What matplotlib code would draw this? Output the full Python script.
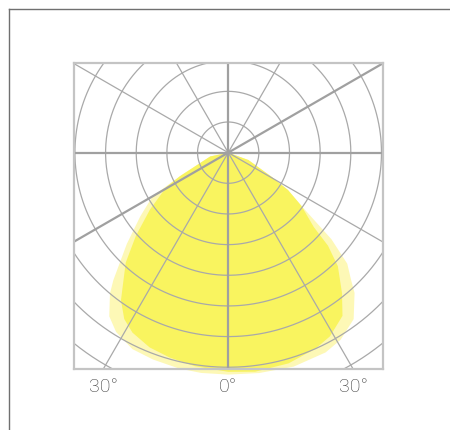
import numpy as np
import matplotlib

matplotlib.use("Agg")
import matplotlib.pyplot as plt
from matplotlib.lines import Line2D

# luminous intensity distribution, angle from nadir (deg, + to the right)
outer_angles = [-90, -78, -64, -60, -54, -48, -42, -40, -36, -32, -26, -20, -13, -7, 0,
                8, 17, 26, 31, 37, 42, 44, 47, 50, 54, 58, 61, 70, 90]
outer_values = [0, 60, 175, 285, 355, 445, 560, 600, 660, 690, 713, 718, 722, 724, 724,
                726, 730, 725, 712, 680, 616, 577, 531, 440, 295, 230, 160, 70, 0]

inner_angles = [-90, -78, -64, -61, -54, -48, -43, -38, -36, -32, -28, -22, -16, -9, 0,
                7, 16, 24, 29, 35, 39, 44, 47, 49, 54, 58, 61, 70, 90]
inner_values = [0, 60, 175, 230, 315, 405, 490, 560, 595, 640, 665, 685, 695, 705, 715,
                720, 715, 700, 685, 650, 590, 515, 445, 370, 295, 230, 160, 70, 0]

rings = [100, 200, 300, 400, 500, 600, 700, 800]
spoke_angles = [0, 30, 60, 90, 120, 150]
bold_angles = [0, 30, 90]
tick_angles = [-30, 0, 30]
tick_labels = ["30°", "0°", "30°"]

x_range = (-504, 504)
y_range = (-706, 294)

GRID = "#a9a9a9"
BOLD = "#a0a0a0"


def to_xy(angles, values):
    a = np.radians(angles)
    v = np.asarray(values, dtype=float)
    return v * np.sin(a), -v * np.cos(a)


fig = plt.figure(figsize=(4.5, 4.3), dpi=100)
ax = fig.add_axes([73.7 / 450, 1 - 369.3 / 430, 309 / 450, 307 / 430])
ax.set_xlim(*x_range)
ax.set_ylim(*y_range)
ax.set_aspect("equal", adjustable="box")
ax.set_xticks([])
ax.set_yticks([])
for s in ax.spines.values():
    s.set_color("#c4c4c4")
    s.set_linewidth(1.6)
    s.set_zorder(6)

# light distribution (not clipped, spills under the bottom edge)
ox, oy = to_xy(outer_angles, outer_values)
ax.fill(ox, oy, color="#fdf8b6", lw=0, zorder=1, clip_on=False)
ix, iy = to_xy(inner_angles, inner_values)
ax.fill(ix, iy, color="#f9f45f", lw=0, zorder=2, clip_on=False)

t = np.linspace(0, 2 * np.pi, 400)
for r in rings:
    ax.plot(r * np.cos(t), r * np.sin(t), color=GRID, lw=0.9, zorder=3)

L = 2000
for a in spoke_angles:
    rad = np.radians(a)
    bold = a in bold_angles
    ax.plot([-L * np.cos(rad), L * np.cos(rad)], [-L * np.sin(rad), L * np.sin(rad)],
            color=BOLD if bold else GRID, lw=1.6 if bold else 0.9, zorder=4 if bold else 3)

for a, lab in zip(tick_angles, tick_labels):
    x = -y_range[0] * np.tan(np.radians(a))
    ax.annotate(lab, xy=(x, 0), xycoords=("data", "axes fraction"),
                xytext=(0, -13), textcoords="offset points", ha="center", va="center",
                fontsize=14, color="#3a3a3a", family=["Roboto", "DejaVu Sans"],
                fontweight="light", annotation_clip=False)

# outer page frame
fig.add_artist(Line2D([9 / 450, 1], [1 - 9.3 / 430] * 2, color="#707070", lw=1.0))
fig.add_artist(Line2D([9 / 450] * 2, [0, 1 - 9.3 / 430], color="#707070", lw=1.0))

fig.savefig("out.png", dpi=100)
